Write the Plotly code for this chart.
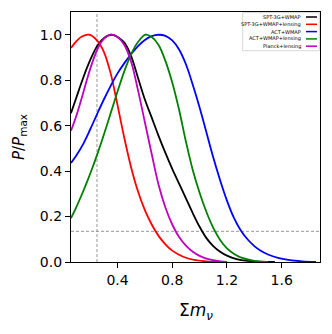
import plotly.graph_objects as go

# ---- data ----
labels = ["SPT-3G+WMAP", "SPT-3G+WMAP+lensing", "ACT+WMAP", "ACT+WMAP+lensing", "Planck+lensing"]
colors = ["#000000", "#ff0000", "#0000ff", "#008000", "#bf00bf"]

spt_x = [0.06, 0.10, 0.14, 0.18, 0.22, 0.26, 0.30, 0.358, 0.40, 0.45, 0.50, 0.55, 0.60, 0.65,
         0.70, 0.75, 0.80, 0.85, 0.90, 0.95, 1.00, 1.05, 1.10, 1.15, 1.20, 1.27, 1.35, 1.45, 1.55]
spt_y = [0.655, 0.725, 0.795, 0.86, 0.915, 0.958, 0.985, 1.0, 0.99, 0.965, 0.905, 0.81, 0.715, 0.635,
         0.555, 0.48, 0.41, 0.345, 0.28, 0.215, 0.155, 0.105, 0.07, 0.045, 0.028, 0.013, 0.005, 0.001, 0.0]

sptl_x = [0.06, 0.10, 0.14, 0.19, 0.25, 0.30, 0.35, 0.40, 0.45, 0.50, 0.55, 0.60, 0.65, 0.70,
          0.75, 0.80, 0.88, 0.96, 1.05, 1.15]
sptl_y = [0.942, 0.972, 0.992, 1.0, 0.975, 0.925, 0.83, 0.69, 0.545, 0.415, 0.31, 0.228, 0.165, 0.115,
          0.078, 0.05, 0.023, 0.009, 0.003, 0.0]

act_x = [0.06, 0.10, 0.15, 0.20, 0.25, 0.30, 0.35, 0.40, 0.45, 0.50, 0.55, 0.60, 0.65, 0.70,
         0.75, 0.80, 0.85, 0.90, 0.95, 1.00, 1.05, 1.10, 1.15, 1.20, 1.25, 1.30, 1.35, 1.40,
         1.45, 1.50, 1.58, 1.66, 1.75, 1.85]
act_y = [0.436, 0.47, 0.52, 0.583, 0.65, 0.715, 0.775, 0.83, 0.875, 0.915, 0.95, 0.977, 0.994, 1.0,
         0.995, 0.975, 0.935, 0.87, 0.78, 0.68, 0.57, 0.46, 0.36, 0.27, 0.195, 0.14, 0.10, 0.07,
         0.048, 0.033, 0.017, 0.008, 0.003, 0.0]

actl_x = [0.06, 0.10, 0.14, 0.18, 0.22, 0.26, 0.30, 0.35, 0.40, 0.45, 0.50, 0.55, 0.604, 0.65,
          0.70, 0.75, 0.80, 0.85, 0.90, 0.95, 1.00, 1.05, 1.10, 1.15, 1.20, 1.25, 1.30, 1.40, 1.50]
actl_y = [0.193, 0.243, 0.298, 0.357, 0.42, 0.488, 0.56, 0.655, 0.75, 0.84, 0.915, 0.968, 1.0, 0.99,
          0.955, 0.885, 0.79, 0.67, 0.53, 0.405, 0.305, 0.22, 0.15, 0.097, 0.06, 0.036, 0.02, 0.005, 0.0]

planck_x = [0.06, 0.10, 0.14, 0.18, 0.22, 0.26, 0.30, 0.35, 0.40, 0.45, 0.50, 0.55, 0.60, 0.65,
            0.70, 0.75, 0.80, 0.85, 0.90, 0.95, 1.00, 1.05, 1.12, 1.20]
planck_y = [0.578, 0.645, 0.725, 0.81, 0.885, 0.945, 0.982, 1.0, 0.99, 0.955, 0.88, 0.755, 0.615, 0.475,
            0.34, 0.24, 0.165, 0.11, 0.072, 0.045, 0.027, 0.015, 0.006, 0.0]

series_x = [spt_x, sptl_x, act_x, actl_x, planck_x]
series_y = [spt_y, sptl_y, act_y, actl_y, planck_y]

ref_x = 0.25      # vertical dashed reference
ref_y = 0.135     # horizontal dashed reference

x_ticks = [0.4, 0.8, 1.2, 1.6]
y_ticks = [0.0, 0.2, 0.4, 0.6, 0.8, 1.0]
x_range = [0.06, 1.88]
y_range = [0.0, 1.1]

fig = go.Figure()
for xs, ys, c, name in zip(series_x, series_y, colors, labels):
    fig.add_trace(go.Scatter(x=xs, y=ys, mode="lines", name=name,
                             line=dict(color=c, width=1.8, shape="spline", smoothing=1.0),
                             showlegend=False))

fig.add_vline(x=ref_x, line=dict(color="#8c8c8c", width=0.9, dash="3px,2px"), layer="below")
fig.add_hline(y=ref_y, line=dict(color="#8c8c8c", width=0.9, dash="3px,2px"), layer="below")

# the page has an 8px body margin; size the figure so the plot lands where the reference has it
OFF = 8
W, H = 316, 318
ml, mr, mt, mb = 63, 4, 4, 64
pw, ph = W - ml - mr, H - mt - mb

def px2paper(px, py):
    return (px - OFF - ml) / pw, (H - mb - (py - OFF)) / ph

# manual legend (text first, line sample after, like matplotlib markerfirst=False)
bx0, by0 = px2paper(242.7, 12.7)
bx1, by1 = px2paper(319.3, 50.7)
fig.add_shape(type="rect", xref="paper", yref="paper", x0=bx0, x1=bx1, y0=by1, y1=by0,
              line=dict(color="#cccccc", width=0.8), fillcolor="rgba(255,255,255,0.8)")
for i, (name, c) in enumerate(zip(labels, colors)):
    py = 17.0 + i * 7.3
    tx, ty = px2paper(303, py)
    lx0, _ = px2paper(306, py)
    lx1, _ = px2paper(317, py)
    fig.add_annotation(x=tx, y=ty, xref="paper", yref="paper", text=name, showarrow=False,
                       xanchor="right", yanchor="middle",
                       font=dict(family="DejaVu Sans", size=5, color="black"))
    fig.add_shape(type="line", xref="paper", yref="paper", x0=lx0, x1=lx1, y0=ty, y1=ty,
                  line=dict(color=c, width=1.5))

# axis titles
ax, ay = px2paper(195.5, 311)
fig.add_annotation(x=ax, y=ay, xref="paper", yref="paper", showarrow=False,
                   text="Σ<i>m</i><sub><i>ν</i></sub>", xanchor="center", yanchor="middle",
                   font=dict(family="DejaVu Sans", size=17, color="black"))
yx, yy = px2paper(19, 137)
fig.add_annotation(x=yx, y=yy, xref="paper", yref="paper", showarrow=False, textangle=-90,
                   text="<i>P</i>/<i>P</i><sub>max</sub>", xanchor="center", yanchor="middle",
                   font=dict(family="DejaVu Sans", size=15, color="black"))

axis_common = dict(showgrid=False, zeroline=False, showline=True, linecolor="black",
                   linewidth=1.3, mirror=True, ticks="outside", ticklen=5, tickwidth=1.2,
                   tickcolor="black", tickfont=dict(family="DejaVu Sans", size=14, color="black"))
fig.update_xaxes(range=x_range, tickvals=x_ticks, ticktext=[f"{v:.1f}" for v in x_ticks],
                 **axis_common)
fig.update_yaxes(range=y_range, tickvals=y_ticks, ticktext=[f"{v:.1f}" for v in y_ticks],
                 **axis_common)

fig.update_layout(width=W, height=H, margin=dict(l=ml, r=mr, t=mt, b=mb),
                  plot_bgcolor="white", paper_bgcolor="white", showlegend=False)

fig.write_html("out.html")
